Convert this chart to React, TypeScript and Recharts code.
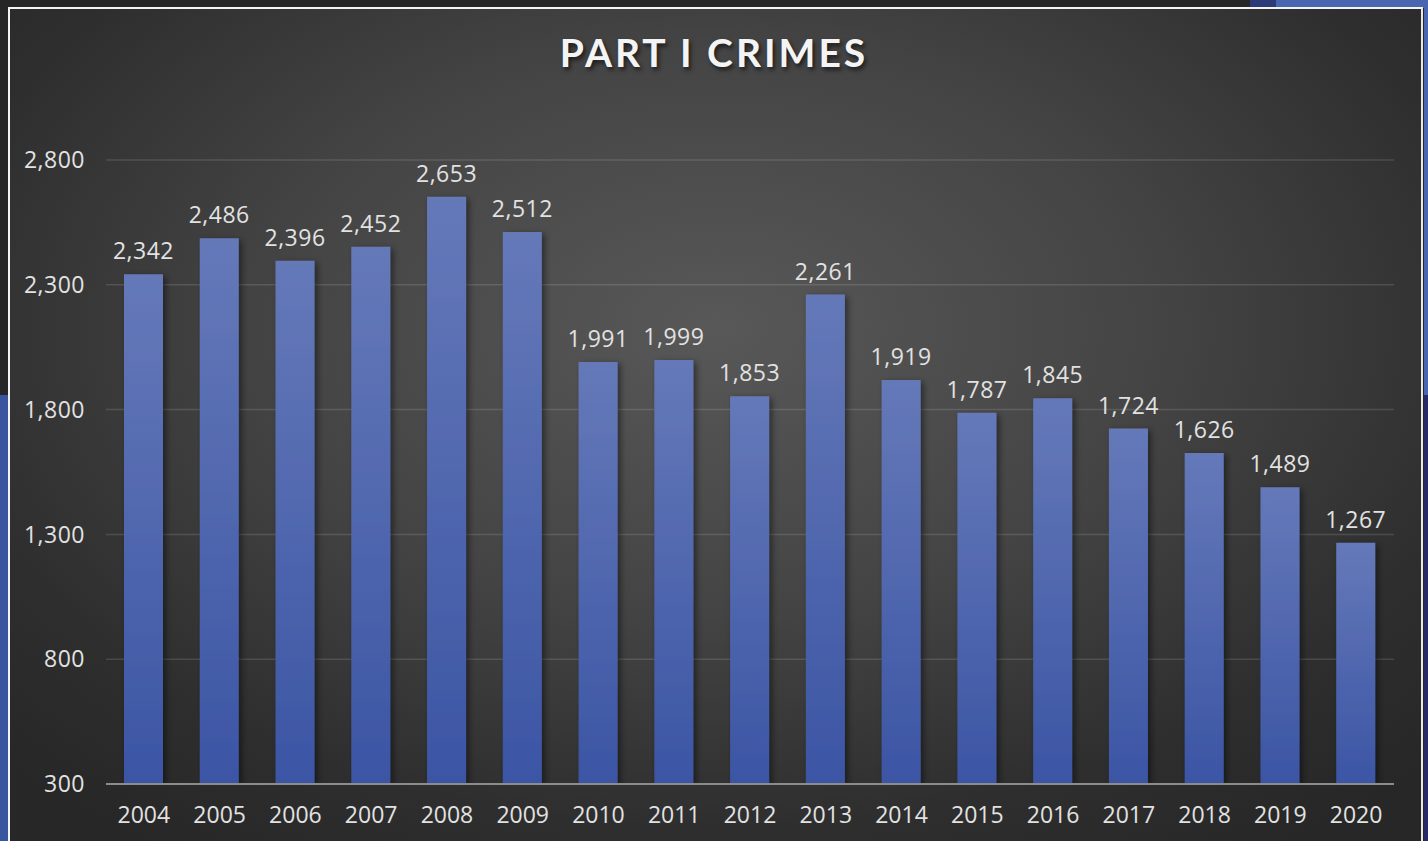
import React from "react";
import { BarChart, Bar, XAxis, YAxis, CartesianGrid, LabelList } from "recharts";

const years = ["2004","2005","2006","2007","2008","2009","2010","2011","2012","2013","2014","2015","2016","2017","2018","2019","2020"];
const crimes = [2342,2486,2396,2452,2653,2512,1991,1999,1853,2261,1919,1787,1845,1724,1626,1489,1267];
const yTicks = [300, 800, 1300, 1800, 2300, 2800];

const data = years.map((y, i) => ({ year: y, value: crimes[i] }));
const fmt = (v: number) => v.toLocaleString("en-US");

export default function App() {
  return (
    <div style={{ position: "absolute", left: 0, top: 0, width: 1428, height: 841, overflow: "hidden", background: "#262626" }}>
      <div style={{ position: "absolute", left: 1250, top: 0, width: 26, height: 8, background: "#2d3a78" }} />
      <div style={{ position: "absolute", left: 1276, top: 0, width: 152, height: 8, background: "#4b66b1" }} />
      <div style={{ position: "absolute", left: 1424, top: 0, width: 4, height: 395, background: "#4b66b1" }} />
      <div style={{ position: "absolute", left: 1424, top: 395, width: 4, height: 446, background: "#272a66" }} />
      <div style={{ position: "absolute", left: 0, top: 395, width: 8, height: 446, background: "#3a55a0" }} />
      <div
        style={{
          position: "absolute",
          left: 8,
          top: 7,
          width: 1415,
          height: 840,
          boxSizing: "border-box",
          borderTop: "2px solid #f4f4f4",
          borderLeft: "2px solid #f4f4f4",
          borderRight: "2px solid #e8e8e8",
          background: "radial-gradient(ellipse 70% 75% at 50% 38%, #585858 0%, #444444 45%, #2e2e2e 80%, #272727 100%)",
        }}
      />
      <div
        style={{
          position: "absolute",
          left: 0,
          top: 28,
          width: 1428,
          textAlign: "center",
          fontFamily: "Lato, 'Open Sans', sans-serif",
          fontWeight: 700,
          fontSize: 39,
          letterSpacing: 3,
          color: "#f4f4f4",
          textShadow: "2px 3px 4px rgba(0,0,0,0.6)",
          lineHeight: "48px",
        }}
      >
        PART I CRIMES
      </div>
      <div style={{ position: "absolute", left: 0, top: 0 }}>
        <BarChart width={1428} height={841} data={data} margin={{ top: 160, right: 34, bottom: 27, left: 0 }}>
          <defs>
            <linearGradient id="barGrad" x1="0" y1="0" x2="0" y2="1">
              <stop offset="0%" stopColor="#6579b9" />
              <stop offset="100%" stopColor="#3b55a4" />
            </linearGradient>
            <filter id="barShadow" x="-30%" y="-10%" width="160%" height="120%">
              <feDropShadow dx="3" dy="2" stdDeviation="3" floodColor="#000" floodOpacity="0.45" />
            </filter>
          </defs>
          <CartesianGrid vertical={false} stroke="rgba(255,255,255,0.13)" strokeWidth={1.5} />
          <XAxis
            dataKey="year"
            height={30}
            tickLine={false}
            tickSize={0}
            tickMargin={23}
            axisLine={{ stroke: "#8c8c8c", strokeWidth: 2 }}
            tick={{ fill: "#e2e2e2", fontSize: 23, fontFamily: "'Open Sans', sans-serif" }}
            interval={0}
          />
          <YAxis
            width={106}
            domain={[300, 2800]}
            ticks={yTicks}
            tickFormatter={fmt}
            axisLine={false}
            tickLine={false}
            tickSize={0}
            tickMargin={21}
            tick={{ fill: "#e2e2e2", fontSize: 23, fontFamily: "'Open Sans', sans-serif", letterSpacing: 0.5 }}
            allowDataOverflow
          />
          <Bar dataKey="value" fill="url(#barGrad)" isAnimationActive={false} barSize={39} filter="url(#barShadow)">
            <LabelList
              dataKey="value"
              position="top"
              offset={15}
              formatter={(v: any) => fmt(Number(v))}
              style={{ fill: "#e2e2e2", fontSize: 23, fontFamily: "'Open Sans', sans-serif", letterSpacing: 0.5 }}
            />
          </Bar>
        </BarChart>
      </div>
    </div>
  );
}
